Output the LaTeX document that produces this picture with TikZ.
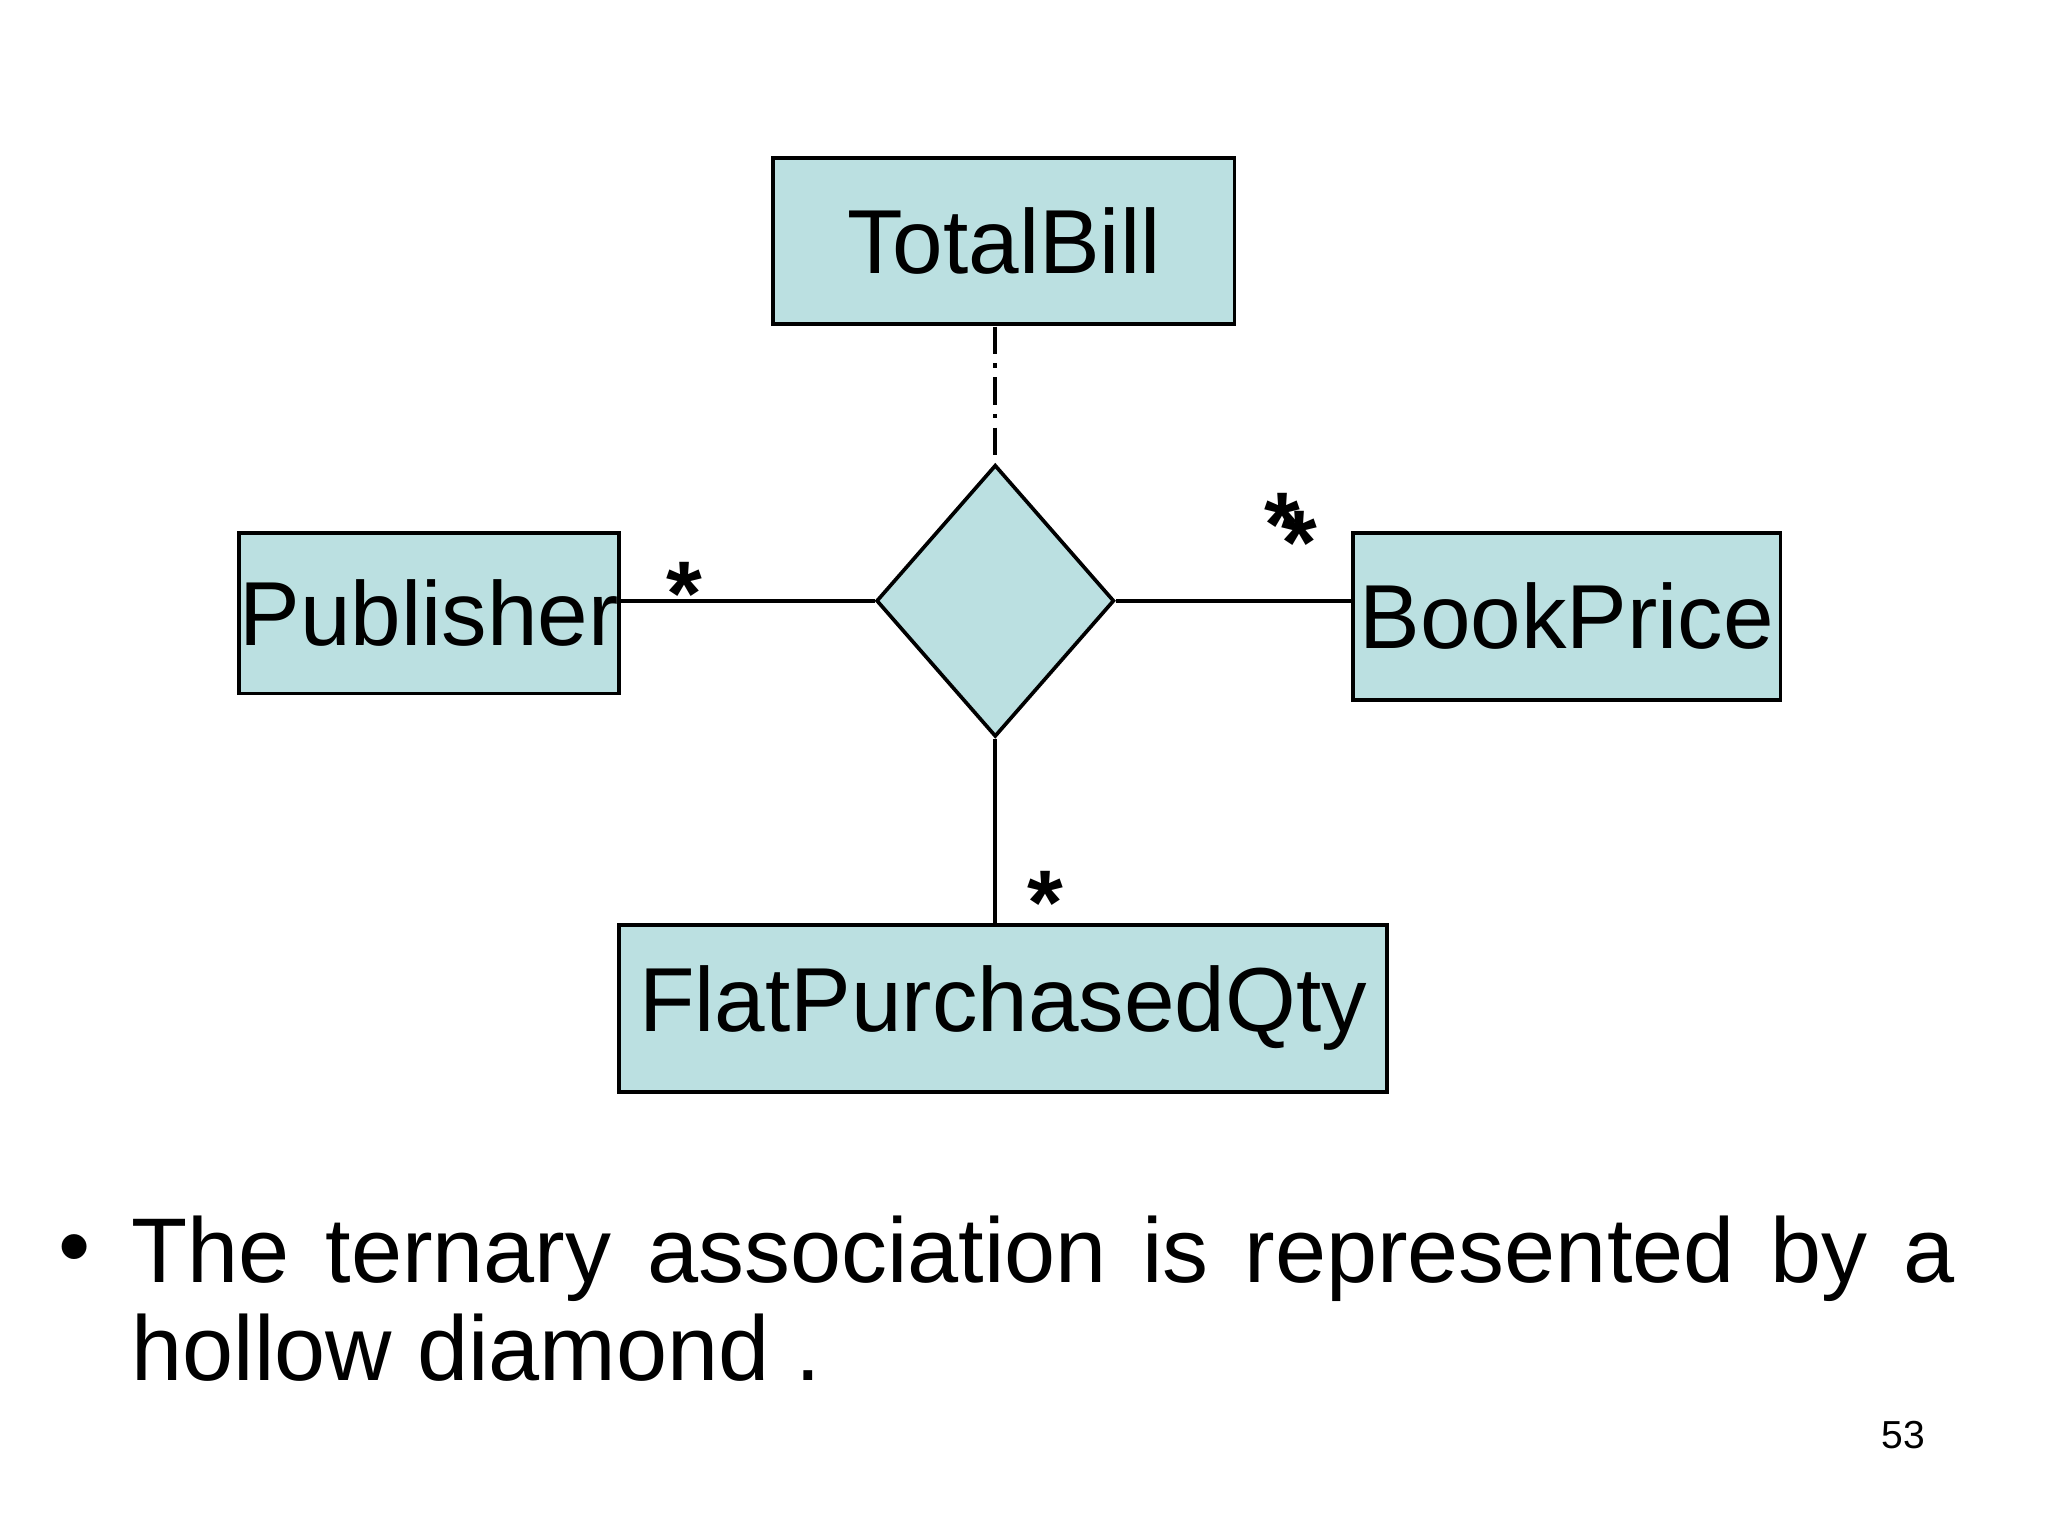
\documentclass[tikz,border=0pt]{standalone}
\usepackage{fontspec}
\setmainfont{Liberation Sans}
\usetikzlibrary{shapes.geometric}
\definecolor{boxfill}{HTML}{BBE0E1}
\begin{document}
\begin{tikzpicture}[x=0.01cm,y=-0.01cm,
  ent/.style={draw,fill=boxfill,line width=0.8pt,inner sep=0pt,font=\fontsize{19.8}{22}\selectfont},
  star/.style={font=\fontsize{20}{22}\selectfont\bfseries,inner sep=0pt}]
\useasboundingbox (0,0) rectangle (1568,1176);
\node[ent,minimum width=3.53cm,minimum height=1.27cm] (tb) at (768.5,184.5) {TotalBill};
\node[ent,minimum width=2.91cm,minimum height=1.23cm] (pub) at (328.5,469.5) {Publisher};
\node[ent,minimum width=3.27cm,minimum height=1.28cm] (bp) at (1199.5,472) {BookPrice};
\node[ent,minimum width=5.88cm,minimum height=1.28cm] (fq) at (768,772) {FlatPurchasedQty};
\node[draw,fill=boxfill,line width=0.8pt,diamond,minimum width=1.82cm,minimum height=2.08cm,inner sep=0pt] (d) at (762,460) {};
\draw[line width=0.8pt,dash pattern=on 6pt off 2pt on 1pt off 2pt] (762,250) -- (d.north);
\draw[line width=0.8pt] (pub.east |- d.west) -- (d.west);
\draw[line width=0.8pt] (d.east) -- (bp.west |- d.east);
\draw[line width=0.8pt] (d.south) -- (d.south |- fq.north);
\node[star] (s1) at (524,455) {*};
\node[star] (s2) at (982,402) {*};
\node[star] (s3) at (995,416) {*};
\node[star] (s4) at (800,691) {*};
\node[anchor=north west,inner sep=0pt,font=\fontsize{20}{21.3}\selectfont] (txt) at (100,930)
 {\parbox{13.95cm}{\hspace*{0pt}The ternary association is represented by a hollow diamond .}};
\node[font=\fontsize{20}{21.3}\selectfont,inner sep=0pt] (bul) at (57,962) {•};
\node[font=\fontsize{8.5}{10}\selectfont,inner sep=0pt] (pg) at (1457,1099) {53};
\end{tikzpicture}
\end{document}
